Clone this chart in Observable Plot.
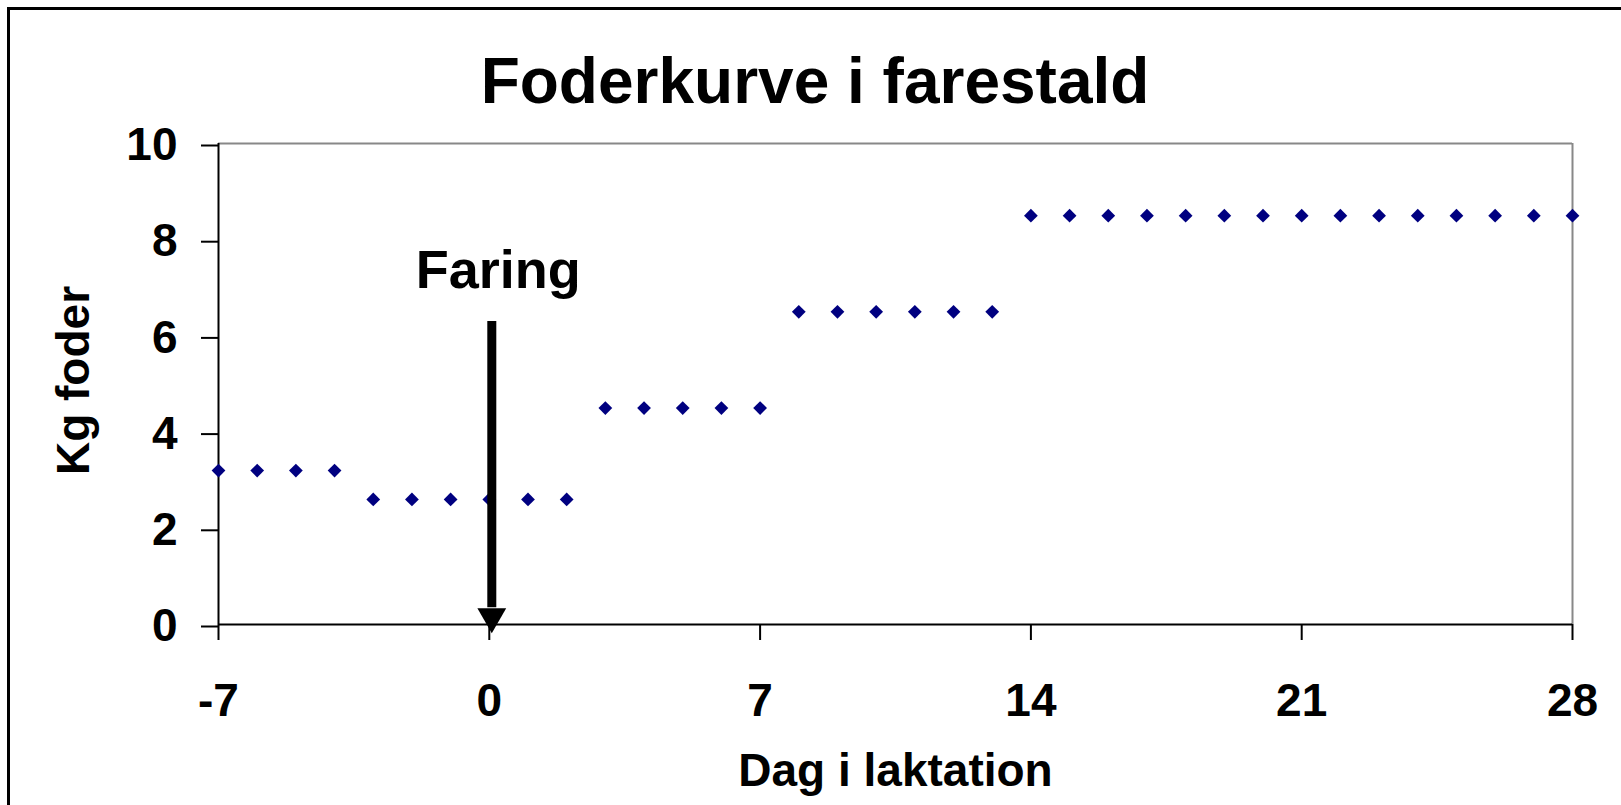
<!DOCTYPE html>
<html>
<head>
<meta charset="utf-8">
<script src="https://cdn.jsdelivr.net/npm/d3@7"></script>
<script src="https://cdn.jsdelivr.net/npm/@observablehq/plot@0.6"></script>
<style>
  html, body { margin: 0; padding: 0; background: #fff; overflow: hidden; }
  #wrap { position: relative; width: 1621px; height: 805px; overflow: hidden; background: #fff;
          font-family: 'Liberation Sans', Arial, sans-serif; }
  #borderTop { position: absolute; left: 7px; top: 7px; width: 1614px; height: 2.5px; background: #000; }
  #borderLeft { position: absolute; left: 7px; top: 7px; width: 2.5px; height: 798px; background: #000; }
  #title { position: absolute; left: 0; top: 48.5px; width: 1630px; text-align: center;
           font-size: 64px; line-height: 64px; font-weight: bold; color: #000; white-space: nowrap; }
  #chart { position: absolute; left: 0; top: 0; }
</style>
</head>
<body>
<div id="wrap">
  <div id="borderTop"></div>
  <div id="borderLeft"></div>
  <div id="chart"></div>
  <div id="title">Foderkurve i farestald</div>
</div>
<script>
// ---- data ----
const days = [-7, -6, -5, -4, -3, -2, -1, 0, 1, 2, 3, 4, 5, 6, 7, 8, 9, 10, 11, 12, 13,
              14, 15, 16, 17, 18, 19, 20, 21, 22, 23, 24, 25, 26, 27, 28];
const kgFoder = [3.2, 3.2, 3.2, 3.2,
                 2.6, 2.6, 2.6, 2.6, 2.6, 2.6,
                 4.5, 4.5, 4.5, 4.5, 4.5,
                 6.5, 6.5, 6.5, 6.5, 6.5, 6.5,
                 8.5, 8.5, 8.5, 8.5, 8.5, 8.5, 8.5, 8.5, 8.5, 8.5, 8.5, 8.5, 8.5, 8.5, 8.5];
const xTicks = [-7, 0, 7, 14, 21, 28];
const yTicks = [0, 2, 4, 6, 8, 10];
const xLabel = "Dag i laktation";
const yLabel = "Kg foder";
const faringLabel = ["Faring"];
const faringDay = [0];
const faringLabelY = [7];
const arrowTopY = [6.3];

const table = days.map((d, i) => ({day: d, kg: kgFoder[i]}));
const xMin = xTicks[0], xMax = xTicks[xTicks.length - 1];
const yMin = yTicks[0], yMax = yTicks[yTicks.length - 1];
const arrowRows = faringDay.map((d, i) => ({x: d, y1: arrowTopY[i], y2: yMin}));
const labelRows = faringLabel.map((t, i) => ({x: faringDay[i], y: faringLabelY[i], t}));

const font = "'Liberation Sans', Arial, sans-serif";

const chart = Plot.plot({
  width: 1621,
  height: 805,
  marginLeft: 218,
  marginRight: 49,
  marginTop: 143,
  marginBottom: 181,
  style: {fontFamily: font, fontSize: "46px", fontWeight: "bold", background: "transparent", overflow: "visible", color: "#000"},
  x: {domain: [xMin, xMax]},
  y: {domain: [yMin, yMax]},
  marks: [
    Plot.ruleY([yMax], {stroke: "#888", strokeWidth: 2}),
    Plot.ruleX([xMax], {stroke: "#888", strokeWidth: 2}),
    Plot.ruleX([xMin], {stroke: "#000", strokeWidth: 2}),
    Plot.ruleY([yMin], {stroke: "#000", strokeWidth: 2}),
    Plot.axisY(yTicks, {tickSize: 17, tickPadding: 24, stroke: "#000", fill: "#000", strokeWidth: 2,
                        fontSize: 46, fontWeight: "bold", dy: 2, label: null, tickFormat: d => String(d)}),
    Plot.axisX(xTicks, {tickSize: 16, tickPadding: 43, stroke: "#000", fill: "#000", strokeWidth: 2,
                        fontSize: 46, fontWeight: "bold", label: null, tickFormat: d => String(d)}),
    Plot.text([xLabel], {frameAnchor: "bottom", text: d => d, dy: 161.6, lineAnchor: "bottom", textAnchor: "middle",
                         fontSize: 46, fontWeight: "bold", fill: "#000"}),
    Plot.text([yLabel], {frameAnchor: "left", text: d => d, rotate: -90, dx: -130, dy: -3.5,
                         lineAnchor: "bottom", textAnchor: "middle",
                         fontSize: 46, fontWeight: "bold", fill: "#000"}),
    Plot.dot(table, {x: "day", y: "kg", symbol: "diamond2", r: 6.2, fill: "#000080", stroke: "none", clip: false}),
    Plot.ruleX(arrowRows, {x: "x", y1: "y1", y2: d => d.y2 + 0.35, stroke: "#000", strokeWidth: 9, dx: 2.5}),
    Plot.dot(arrowRows, {x: "x", y: "y2", symbol: "triangle", rotate: 180, r: 10.7, fill: "#000", stroke: "none", dx: 2.5, dy: -8}),
    Plot.text(labelRows, {x: "x", y: "y", text: "t", lineAnchor: "bottom", dx: 9,
                          fontSize: 54, fontWeight: "bold", fill: "#000"})
  ]
});
document.getElementById("chart").appendChild(chart);
</script>
</body>
</html>
